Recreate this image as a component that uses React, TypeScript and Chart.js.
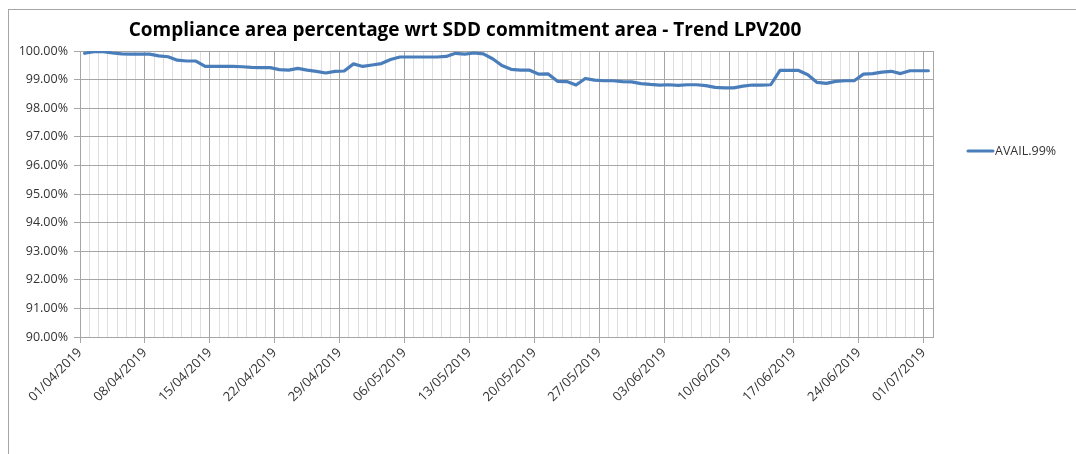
import React, { useEffect, useRef } from "react";
import { Chart, registerables } from "chart.js";

Chart.register(...registerables);

const titleText = "Compliance area percentage wrt SDD commitment area - Trend LPV200";
const seriesLabel = "AVAIL.99%";
const tickLabels = [
  "01/04/2019", "08/04/2019", "15/04/2019", "22/04/2019", "29/04/2019",
  "06/05/2019", "13/05/2019", "20/05/2019", "27/05/2019", "03/06/2019",
  "10/06/2019", "17/06/2019", "24/06/2019", "01/07/2019",
];
// daily values from 01/04/2019 to 01/07/2019
const values = [
  99.92, 99.98, 99.98, 99.93, 99.90, 99.89, 99.89, 99.89, 99.83, 99.80,
  99.68, 99.65, 99.65, 99.46, 99.46, 99.46, 99.46, 99.45, 99.43, 99.42,
  99.42, 99.35, 99.33, 99.39, 99.33, 99.29, 99.23, 99.29, 99.30, 99.55,
  99.46, 99.51, 99.56, 99.70, 99.79, 99.79, 99.79, 99.79, 99.79, 99.81,
  99.92, 99.89, 99.93, 99.90, 99.73, 99.49, 99.36, 99.33, 99.33, 99.19,
  99.20, 98.94, 98.93, 98.81, 99.04, 98.98, 98.96, 98.96, 98.93, 98.92,
  98.86, 98.83, 98.81, 98.82, 98.80, 98.82, 98.82, 98.79, 98.73, 98.71,
  98.71, 98.77, 98.81, 98.81, 98.82, 99.32, 99.32, 99.32, 99.17, 98.90,
  98.87, 98.94, 98.96, 98.96, 99.19, 99.21, 99.26, 99.29, 99.21, 99.31,
  99.31, 99.31,
];
const yTicks = [90, 91, 92, 93, 94, 95, 96, 97, 98, 99, 100];

const LINE_COLOR = "#4a7ebb";
const MAJOR_GRID = "#a6a6a6";
const MINOR_GRID = "#dedede";
const TEXT = "#333333";
const FONT = "'Open Sans', sans-serif";

const overlayPlugin = {
  id: "overlay",
  afterDraw(chart: any) {
    const ctx = chart.ctx;
    ctx.save();
    // title
    ctx.fillStyle = "#000";
    ctx.font = `bold 19px ${FONT}`;
    ctx.textAlign = "center";
    ctx.textBaseline = "middle";
    ctx.fillText(titleText, 465, 31);
    // legend
    const ds = chart.data.datasets[0];
    ctx.strokeStyle = ds.borderColor;
    ctx.lineWidth = 3;
    ctx.lineCap = "round";
    ctx.beginPath();
    ctx.moveTo(968, 151);
    ctx.lineTo(993, 151);
    ctx.stroke();
    ctx.fillStyle = TEXT;
    ctx.font = `12.5px ${FONT}`;
    ctx.textAlign = "left";
    ctx.fillText(ds.label, 995, 151);
    ctx.restore();
  },
};

export default function App() {
  const ref = useRef<HTMLCanvasElement | null>(null);
  useEffect(() => {
    if (!ref.current) return;
    const chart = new Chart(ref.current, {
      type: "line",
      data: {
        datasets: [
          {
            label: seriesLabel,
            data: values.map((v, i) => ({ x: i + 0.5, y: v })),
            borderColor: LINE_COLOR,
            backgroundColor: LINE_COLOR,
            borderWidth: 3.2,
            pointRadius: 0,
            tension: 0,
            borderJoinStyle: "round",
            borderCapStyle: "round",
          },
        ],
      },
      options: {
        animation: false,
        responsive: false,
        maintainAspectRatio: false,
        layout: { padding: { top: 51, right: 143, left: 10, bottom: 27 } },
        plugins: {
          legend: { display: false },
          title: { display: false },
          tooltip: { enabled: false },
        },
        scales: {
          x: {
            type: "linear",
            min: 0,
            max: values.length,
            afterBuildTicks: (scale: any) => {
              scale.ticks = values.map((_, i) => ({ value: i })).concat([{ value: values.length }]);
            },
            afterFit: (scale: any) => {
              scale.height = 90;
            },
            grid: {
              color: (c: any) =>
                c.tick && (c.tick.value % 7 === 0 || c.tick.value === values.length) ? MAJOR_GRID : MINOR_GRID,
              tickColor: (c: any) =>
                c.tick && c.tick.value % 7 === 0 && c.tick.value < values.length ? MAJOR_GRID : "rgba(0,0,0,0)",
              tickLength: 6,
              drawTicks: true,
            },
            border: { color: MAJOR_GRID },
            ticks: {
              autoSkip: false,
              minRotation: 45,
              maxRotation: 45,
              padding: 2,
              color: TEXT,
              font: { family: FONT, size: 13 },
              callback: (v: any) => {
                const n = Number(v);
                return n % 7 === 0 && n / 7 < tickLabels.length ? tickLabels[n / 7] : "";
              },
            },
          },
          y: {
            min: 90,
            max: 100,
            afterBuildTicks: (scale: any) => {
              scale.ticks = yTicks.map((v) => ({ value: v }));
            },
            afterFit: (scale: any) => {
              scale.width = 70;
            },
            grid: { color: MAJOR_GRID, tickLength: 6, tickColor: MAJOR_GRID },
            border: { color: MAJOR_GRID },
            ticks: {
              padding: 6,
              color: TEXT,
              font: { family: FONT, size: 12.5 },
              callback: (v: any) => Number(v).toFixed(2) + "%",
            },
          },
        },
      },
      plugins: [overlayPlugin],
    } as any);
    return () => chart.destroy();
  }, []);

  return (
    <div style={{ position: "absolute", left: 0, top: 0, width: 1076, height: 454, overflow: "hidden", background: "#fff" }}>
      <div
        style={{
          position: "absolute",
          left: 8,
          top: 9,
          width: 1200,
          height: 600,
          borderLeft: "1px solid #a6a6a6",
          borderTop: "1px solid #a6a6a6",
        }}
      />
      <canvas ref={ref} width={1076} height={454} style={{ position: "absolute", left: 0, top: 0, width: 1076, height: 454 }} />
    </div>
  );
}
